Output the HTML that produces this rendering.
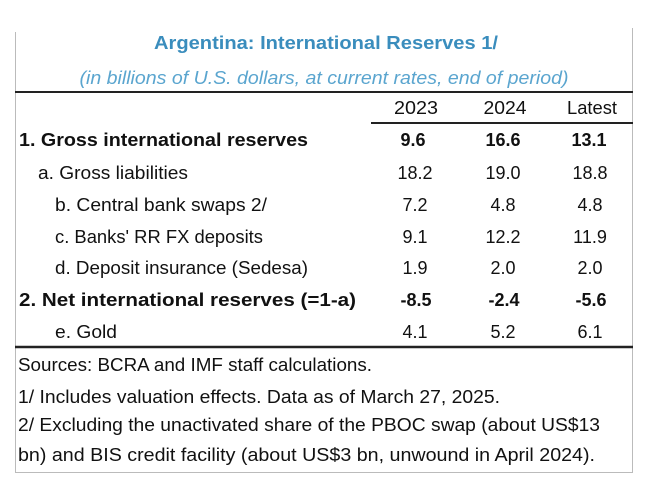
<!DOCTYPE html>
<html><head><meta charset="utf-8"><style>html,body{margin:0;padding:0;background:#fff}svg{display:block}</style></head>
<body>
<svg width="650" height="492" viewBox="0 0 650 492" xmlns="http://www.w3.org/2000/svg" font-family="Liberation Sans, sans-serif" font-size="18" fill="#111">
<line x1="15.5" y1="32" x2="15.5" y2="472" stroke="#bbb"/>
<line x1="632.5" y1="28" x2="632.5" y2="472" stroke="#bbb"/>
<line x1="15" y1="472.5" x2="633" y2="472.5" stroke="#bbb"/>
<text x="326" y="49" text-anchor="middle" fill="#3a8dbd" font-weight="bold" textLength="344" lengthAdjust="spacingAndGlyphs">Argentina: International Reserves 1/</text>
<text x="324" y="84" text-anchor="middle" fill="#5aa5cf" font-style="italic" textLength="489" lengthAdjust="spacingAndGlyphs">(in billions of U.S. dollars, at current rates, end of period)</text>
<line x1="15" y1="92" x2="633" y2="92" stroke="#222" stroke-width="2"/>
<g text-anchor="middle">
<text x="416" y="114" textLength="44" lengthAdjust="spacingAndGlyphs">2023</text><text x="505" y="114" textLength="43" lengthAdjust="spacingAndGlyphs">2024</text><text x="592" y="114" textLength="50" lengthAdjust="spacingAndGlyphs">Latest</text>
</g>
<line x1="371" y1="123" x2="633" y2="123" stroke="#222" stroke-width="2"/>
<g>
<text x="19" y="146" font-weight="bold" textLength="289" lengthAdjust="spacingAndGlyphs">1. Gross international reserves</text>
<text x="38" y="179" textLength="150" lengthAdjust="spacingAndGlyphs">a. Gross liabilities</text>
<text x="55" y="211" textLength="212" lengthAdjust="spacingAndGlyphs">b. Central bank swaps 2/</text>
<text x="55" y="243" textLength="208" lengthAdjust="spacingAndGlyphs">c. Banks' RR FX deposits</text>
<text x="55" y="274" textLength="253" lengthAdjust="spacingAndGlyphs">d. Deposit insurance (Sedesa)</text>
<text x="19" y="306" font-weight="bold" textLength="337" lengthAdjust="spacingAndGlyphs">2. Net international reserves (=1-a)</text>
<text x="55" y="338" textLength="62" lengthAdjust="spacingAndGlyphs">e. Gold</text>
</g>
<g text-anchor="middle">
<g font-weight="bold"><text x="413" y="146">9.6</text><text x="503" y="146">16.6</text><text x="589" y="146">13.1</text></g>
<text x="415" y="179">18.2</text><text x="503" y="179">19.0</text><text x="590" y="179">18.8</text>
<text x="415" y="211">7.2</text><text x="503" y="211">4.8</text><text x="590" y="211">4.8</text>
<text x="415" y="243">9.1</text><text x="503" y="243">12.2</text><text x="590" y="243">11.9</text>
<text x="415" y="274">1.9</text><text x="503" y="274">2.0</text><text x="590" y="274">2.0</text>
<g font-weight="bold"><text x="416" y="306">-8.5</text><text x="504" y="306">-2.4</text><text x="591" y="306">-5.6</text></g>
<text x="415" y="338">4.1</text><text x="503" y="338">5.2</text><text x="590" y="338">6.1</text>
</g>
<line x1="15" y1="347" x2="633" y2="347" stroke="#222" stroke-width="2.5"/>
<g>
<text x="18" y="371" textLength="354" lengthAdjust="spacingAndGlyphs">Sources: BCRA and IMF staff calculations.</text>
<text x="18" y="403" textLength="482" lengthAdjust="spacingAndGlyphs">1/ Includes valuation effects. Data as of March 27, 2025.</text>
<text x="18" y="431" textLength="582" lengthAdjust="spacingAndGlyphs">2/ Excluding the unactivated share of the PBOC swap (about US$13</text>
<text x="18" y="461" textLength="577" lengthAdjust="spacingAndGlyphs">bn) and BIS credit facility (about US$3 bn, unwound in April 2024).</text>
</g>
</svg>
</body></html>
